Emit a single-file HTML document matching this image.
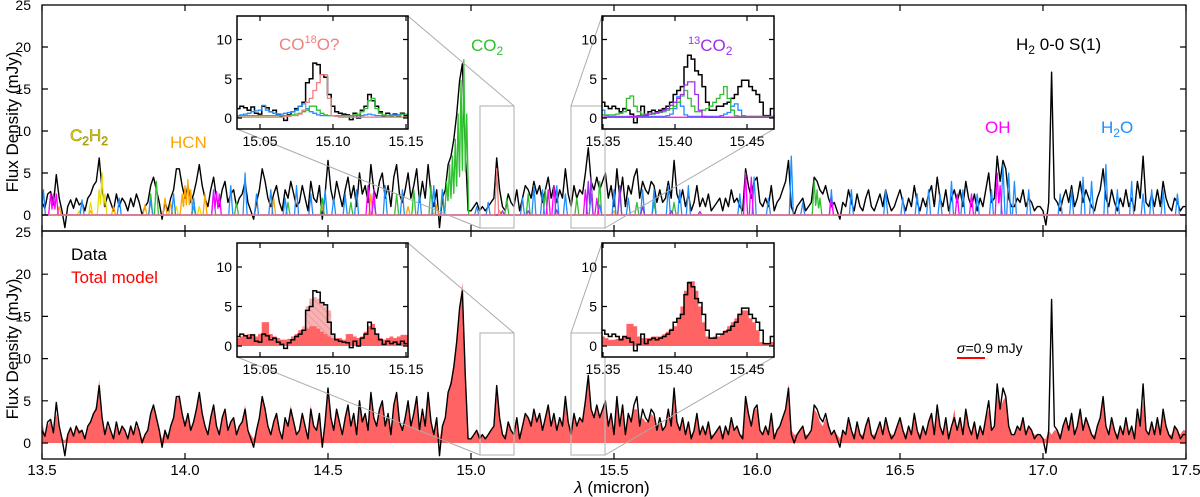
<!DOCTYPE html>
<html><head><meta charset="utf-8">
<style>
html,body{margin:0;padding:0;background:#fff;}
svg{display:block;font-family:"Liberation Sans","DejaVu Sans",sans-serif;}
</style></head>
<body>
<svg id="chart" width="1200" height="497" viewBox="0 0 1200 497" xmlns="http://www.w3.org/2000/svg">
<defs>
<clipPath id="clipTop"><rect x="42" y="5" width="1144" height="226"/></clipPath>
<clipPath id="clipBot"><rect x="42" y="231" width="1144" height="228"/></clipPath>
<clipPath id="clipI1"><rect x="237" y="16" width="171" height="113"/></clipPath>
<clipPath id="clipI2"><rect x="602" y="16" width="172" height="113"/></clipPath>
<clipPath id="clipI3"><rect x="237" y="243" width="171" height="114"/></clipPath>
<clipPath id="clipI4"><rect x="602" y="243" width="172" height="114"/></clipPath>
<pattern id="hatch" patternUnits="userSpaceOnUse" width="5" height="5" patternTransform="rotate(-45)">
<rect width="5" height="5" fill="#f7b3b3"/><line x1="0" y1="0" x2="0" y2="5" stroke="#e08080" stroke-width="1"/>
</pattern>
</defs>
<g id="layer"></g>
</svg>
<script>
const wlStart = 13.5;
const wlStep = 0.01;
const dataFlux = [
1.5,0.8,2.5,2.8,1.2,4.8,2,0.5,-1.5,1,
1.8,0.8,2,1.2,1.5,0.5,2,2.5,3.5,4,
6.8,3,1,2.5,1.5,0.5,2.5,1,2,1.5,
0.5,2,1,2.5,1.5,0,1,1.5,3.5,4.5,
3,1.5,-0.5,1.5,0.5,2,3,5.5,5.5,3.5,
2,3.5,1.5,2.5,4,6,3.5,2,1,3,
4.5,2,1,3,4,1.5,2.5,3,1,2,
2.5,4,1.5,0.5,-0.5,1.5,3,5.5,4,2,
1,2.5,3.5,1.5,0.5,3,2,4,2.5,1,
1.5,3.5,2,0.5,4,2,1.5,3.5,-0.5,2.5,
6.5,3,1.5,4,2.5,1,3,4.5,2,3.5,
1,5,2.5,3.5,1.5,6,3,2,4,5,
2,3.5,1,4.5,6,2.5,1.5,3,5,2,
3.5,5.5,1.5,4,2,6,2.5,1,3,-1.5,
2,3,6,7,9,12,16,18,8,0.5,
0.5,1,1.5,0.5,1,0.5,1,1.5,2,6.8,
3,1,0.5,2.5,1.5,1,3,0.5,2,3.5,
3,2,4,2.5,3.5,1.5,3,4.5,2,3.5,
1.5,3,2,5.5,2.5,1,3.5,2,3,2.5,
5,8,4,3,4.5,3,4,5,2,3.5,
1,5.5,2,4.5,1,3.5,2.5,4.5,5.5,2,
4,3,2.5,4,3.5,1.5,3,1.5,2,4,
2,6.5,2.5,1.5,3,1,2.5,0.5,1.5,3.5,
1,2,1,2.5,0.5,1,1.5,2,0.5,2,
1,3,1.5,2,1,0.5,5.5,3.5,2,4,
4.5,1.5,1,2,1,3.5,0.5,1.5,2,3,
4,6.5,1,0,1,1.5,2,0.5,1,1.5,
4.5,4,3,2.5,3.5,2,1,1.5,0.5,-0.5,
1.5,1,3,1.5,0.5,2.5,1,0.5,2,3,
1,0.5,1.5,2.5,1,3,1.5,0.5,1,2,
3,1.5,0.5,2,1,3.5,1.5,0.5,2,1,
2.5,3.5,1,4.5,2,1,3,0.5,2,3,
1.5,3,1,4,2,1,2.5,0.5,2,1,
3,5,1.5,2,7,4,6.5,5.5,2,1,
1,2,1.5,3,1,2,1.5,0.5,1,1,
0.5,-1.2,1.5,17,2,1.5,0.5,2,3,1.5,
3.5,1,2,4,1.5,3,2,1,0.5,2,
3,5.5,2,1,3,1.5,0.5,2,1,3,
1,2,0.5,4,2,7,1.5,1,2.5,1,
3,1,4,2,1,0.5,2,1.5,0.5,1,
1
];
const modelFlux = [
2.5,1,2,2.8,1.5,3.5,1.5,0.5,0.3,1,
2,1,2,1.5,1.5,0.8,2,2.5,3.5,4.5,
7.5,3,1,2,1.5,0.8,2,1,2,1.5,
0.8,2,1,2,1.5,0.5,1,1.5,3.5,4.5,
3,1.5,0.5,1.5,1,2,3,5,5.8,3.5,
2.5,3.5,1.5,2.5,4,5.5,3.5,2,1,3,
4.5,2,1,3,4,1.5,2.5,3,1,2,
2.5,4.5,1.5,1,0.5,1.5,3,5.5,4,2,
1,2.5,3.5,1.5,0.5,3,2,4.5,2.5,1,
1.5,3.5,2,1,4.5,2,1.5,3.5,0.5,2.5,
6,3,1.5,4,2.5,1,3,4.5,2,3.5,
1.5,5,2.5,3.5,1.5,5.5,3,2,4,5,
2,3.5,1,4.5,5.5,2.5,1.5,3,5,2,
3.5,5.5,1.5,4,2,5.5,2.5,1,3,0.5,
2,3,6,7.5,9.5,12,16.5,19,8.5,0.5,
0.5,1,1.5,1,1,0.5,1,1.5,2,6,
3,1,1,2.5,1.5,1,3,1,2,3.5,
3,2.5,4,2.5,3.5,1.5,3,4.5,2,3.5,
1.5,3,2,5,2.5,1,3.5,2,3,2.5,
5,8,4,3,4.5,3,4,5,2,3.5,
1,5.5,2,4.5,1,3.5,2.5,4,4,2,
3,2.5,2.5,3.5,3,1.5,2.5,1.5,2,4,
2,5.5,2.5,1.5,3,1,2.5,1,1.5,3,
1,2,1,2.5,1,1,1.5,2,1,2,
1,3,1.5,2,1,1,5.5,3.5,2,4,
4,1.5,1,2,1,3.5,1,1.5,2,3,
4,7,1.5,1,1,1.5,2,1,1,1.5,
4,3.5,2.5,2,3,2,1,1.5,1,0.5,
1.5,1,3,1.5,1,2.5,1,1,2,3,
1,1,1.5,2.5,1,3,1.5,1,1,2,
3,1.5,1,2,1,3.5,1.5,1,2,1,
2.5,3.5,1,4.5,2,1,3,1,2,4,
1.5,3,1,4,2,1,2.5,1,2,1,
3,4,1.5,2,6,4,5,5.5,2,1,
1,2,1.5,3,1,2,1.5,1,1,1,
0.5,0.5,1.5,1,1.5,1.5,1,2,3,1.5,
3.5,1,2,4,1.5,3,2,1,1,2,
3,5,2,1,3,1.5,1,2,1,3,
1,2,1,4,2,5,1.5,1,2.5,1,
3,1,4,2,1,1,2,1.5,1,1.5,
1.5
];
const h2oCenters = [13.505,13.64,13.77,13.88,13.96,14.03,14.10,14.16,14.21,14.25,14.30,14.35,14.39,14.44,14.49,14.52,14.56,14.60,14.66,14.70,14.76,14.82,14.87,14.90,15.02,15.06,15.18,15.22,15.25,15.30,15.33,15.42,15.45,15.50,15.55,15.60,15.64,15.69,15.73,15.76,15.94,15.99,16.04,16.12,16.16,16.26,16.33,16.45,16.51,16.56,16.60,16.64,16.68,16.72,16.77,16.82,16.86,16.88,16.90,16.95,17.06,17.10,17.14,17.17,17.22,17.26,17.31,17.35,17.38,17.42,17.47];
const h2oPeaks   = [3,1.8,2,1.8,2.5,2,3,3.5,5,2.5,3,2,3.5,2.5,3,2,2.5,3,2,3.5,3,2.5,3.5,3,1,1.5,2,3.5,3,3.5,2.5,2.5,1.2,3,2,3,3,3.5,3,3.5,2.5,4.5,2,7,1.5,3,3,3,2,2.5,3,2.5,4,3,2.5,3,6,5,4,3,2.5,3,4.5,4,6,3,4,2.5,3,3,2.5];
const co2Centers = [13.88,13.90,14.03,14.18,14.36,14.48,14.58,14.66,14.74,14.80,14.86,14.90,14.915,14.925,14.935,14.945,14.955,14.965,14.975,14.985,15.125,15.20,15.26,15.37,15.45,15.52,15.58,15.64,15.71,16.20,16.21,16.22];
const co2Peaks   = [2.5,4,1,1.5,1.5,2,1.5,2,2.5,3,3.5,3,4,6,7,9,12,16,18.5,12,2,2.5,3,2,4,2.5,1.5,1.5,1.5,4,3,2];
const ohCenters = [13.53,13.54,13.55,14.10,14.11,14.12,14.64,14.66,15.27,15.29,15.40,15.44,15.96,15.98,16.26,16.70,16.75,16.84,16.85];
const ohPeaks   = [2.5,2.5,2.5,2.8,2.8,2.5,3.5,3,3,3.5,3,2,5,4.5,2,2.5,2.5,5,3.5];
const hcnCenters = [13.56,13.67,13.75,13.86,13.93,13.95,13.99,14.00,14.01,14.02,14.07,14.31,14.48,14.65,14.78,14.88,15.10,15.30,15.50,15.70];
const hcnPeaks   = [1,0.5,1,1.2,2,1.5,2.5,3.5,4.2,3,2.5,2,1,2.5,1,1.2,0.5,0.5,0.5,0.4];
const c2h2Centers = [13.63,13.67,13.70,13.71,13.72,13.97,14.05];
const c2h2Peaks   = [0.5,1.5,3,5,2.5,1,1];
const co2_13Centers = [15.11,15.20,15.30,15.41,15.42,15.52,15.60,15.70,15.80];
const co2_13Peaks   = [0.5,0.5,0.6,4,4.5,3.5,1,0.5,0.4];
const co18oCenters = [15.09];
const co18oPeaks   = [5.5];
const in1Start = 15.035;
const inStep = 0.0025;
const in1Data = [1.2,1.5,1.3,1.0,1.4,0.6,0.5,1.5,1.3,0.8,1.0,0.5,0.2,-0.3,0.4,0.8,1.2,1.5,2.0,4.5,5.0,7.0,6.8,5.5,5.2,3.0,1.5,0.8,0.6,0.5,0.4,-0.2,0.6,0.0,1.0,1.5,3.0,2.2,1.5,0.8,0.2,0.6,0.3,0.5,0.2,0.6,0.3];
const in1Model = [1.0,1.2,1.4,1.5,1.3,1.2,1.5,3.0,3.0,1.5,1.2,1.0,0.8,0.8,0.9,1.2,1.5,2.0,2.5,5.0,6.0,6.2,6.0,5.5,5.0,4.5,1.5,1.0,1.0,0.8,1.5,1.5,1.2,1.0,1.2,1.8,2.5,2.8,1.5,1.0,0.8,1.0,1.2,1.0,1.2,1.4,1.4];
const in1ModelNoIso = [1.0,1.2,1.4,1.5,1.3,1.2,1.5,3.0,3.0,1.5,1.2,1.0,0.8,0.8,0.9,1.2,1.5,2.0,2.0,2.2,2.5,2.5,2.2,1.8,1.5,1.2,1.0,1.0,1.0,0.8,1.5,1.5,1.2,1.0,1.2,1.8,2.5,2.8,1.5,1.0,0.8,1.0,1.2,1.0,1.2,1.4,1.4];
const in1Co18o = [0.1,0.1,0.1,0.1,0.1,0.1,0.1,0.1,0.1,0.1,0.1,0.1,0.1,0.2,0.2,0.3,0.3,0.5,1.0,2.0,2.5,3.5,4.5,5.5,5.5,2.5,0.3,0.2,0.1,0.1,0.1,0.1,0.1,0.1,0.1,0.1,0.1,0.1,0.1,0.1,0.1,0.1,0.1,0.1,0.1,0.1,0.1];
const in1Co2 = [0.3,0.3,0.3,0.3,0.3,0.3,0.3,0.3,0.3,0.3,0.3,0.3,0.3,0.3,0.3,0.4,0.5,0.6,0.8,1.0,1.5,1.5,1.0,0.6,0.4,0.3,0.3,0.3,0.3,0.3,0.3,0.3,0.4,0.5,0.8,1.2,2.2,2.5,1.2,0.6,0.4,0.3,0.3,0.3,0.3,0.5,0.5];
const in1H2o = [0.3,0.4,0.5,0.6,0.8,0.9,1.0,1.6,1.0,0.8,0.6,0.5,0.5,0.6,0.7,0.8,1.0,1.5,1.8,1.2,0.8,0.6,0.4,0.3,0.3,0.3,0.3,0.3,0.3,0.3,0.3,0.3,0.3,0.3,0.3,0.4,0.5,0.4,0.3,0.3,0.3,0.3,0.4,0.4,0.4,0.5,0.5];
const in2Start = 15.35;
const in2Data = [2.0,1.5,1.2,1.5,1.2,0.8,1.2,1.0,0.5,-0.6,0.2,1.5,0.3,0.8,1.0,0.8,1.0,1.2,1.5,2.0,3.0,3.5,4.0,6.5,8.0,7.5,6.0,5.5,4.0,2.0,1.0,1.0,1.5,1.5,1.8,2.0,2.5,3.0,4.0,4.8,4.8,4.0,3.5,3.0,2.0,0.3,0.3,1.2];
const in2Model = [1.2,1.0,0.8,0.8,0.9,1.0,1.2,2.8,2.8,2.5,1.2,1.0,1.0,1.0,1.2,1.2,1.2,1.5,1.8,2.2,2.5,3.5,5.0,7.0,8.2,8.2,7.0,5.0,3.0,1.2,1.0,1.2,1.2,1.5,2.0,2.5,3.0,3.5,4.0,4.5,4.5,3.5,3.0,2.0,0.5,0.3,0.3,0.5];
const in2Co2_13 = [0.1,0.1,0.1,0.1,0.1,0.1,0.1,0.1,0.2,0.2,0.3,0.3,0.4,0.5,0.6,0.7,0.8,1.0,1.2,1.6,2.0,2.5,3.0,4.2,4.6,4.6,3.0,1.0,0.2,0.1,0.1,0.1,0.1,0.1,0.1,0.1,0.1,0.1,0.1,0.1,0.1,0.1,0.1,0.1,0.1,0.1,0.1,0.1];
const in2Co2 = [0.4,0.4,0.4,0.4,0.5,0.6,0.8,2.5,2.8,1.5,0.8,0.5,0.5,0.5,0.5,0.6,0.7,0.8,1.0,1.2,1.5,2.0,2.8,3.5,2.5,1.5,0.8,0.8,1.0,1.2,1.5,2.0,2.5,3.0,4.0,2.5,1.0,0.3,0.2,0.2,0.2,0.2,0.2,0.2,0.2,0.2,0.2,0.2];
const in2H2o = [1.0,0.3,0.2,0.2,0.2,0.2,0.2,0.2,0.2,0.2,0.2,0.2,0.2,0.2,0.2,0.2,0.2,0.2,0.3,0.5,1.2,2.7,1.5,0.4,0.2,0.2,0.2,0.2,0.2,0.2,0.2,0.2,0.2,0.3,0.5,0.7,1.5,1.8,1.0,0.3,0.2,0.2,0.2,0.2,0.2,0.2,0.2,0.2];
const xTicks = ["13.5","14.0","14.5","15.0","15.5","16.0","16.5","17.0","17.5"];
const yTicks = [0,5,10,15,20,25];
const inYTicks = [0,5,10];
const in1XTicks = ["15.05","15.10","15.15"];
const in2XTicks = ["15.35","15.40","15.45"];

const X = l => 42 + (l - 13.5) * 286;
const Yt = v => 215 - v * 8.4;
const Yb = v => 443 - v * 8.44;
const XI1 = l => 260 + (l - 15.05) * 1460;
const XI2 = l => 603 + (l - 15.35) * 1440;
const YI1 = v => 118 - v * 7.85;
const YI3 = v => 346 - v * 7.9;

const NS = 'http://www.w3.org/2000/svg';
const root = document.getElementById('layer');
function mk(tag, attrs, parent) {
  const e = document.createElementNS(NS, tag);
  for (const k in attrs) e.setAttribute(k, attrs[k]);
  (parent || root).appendChild(e);
  return e;
}
function txt(s, x, y, attrs, parent) {
  const e = mk('text', Object.assign({x: x, y: y}, attrs), parent);
  e.textContent = s;
  return e;
}
function linePath(vals, start, step, xf, yf) {
  let d = '';
  vals.forEach((v, i) => { d += (i ? 'L' : 'M') + xf(start + i * step).toFixed(1) + ',' + yf(v).toFixed(1); });
  return d;
}
function stepPath(vals, start, step, xf, yf) {
  let d = '';
  vals.forEach((v, i) => {
    const x0 = xf(start + (i - 0.5) * step), x1 = xf(start + (i + 0.5) * step);
    d += (i ? 'L' : 'M') + x0.toFixed(1) + ',' + yf(v).toFixed(1) + 'L' + x1.toFixed(1) + ',' + yf(v).toFixed(1);
  });
  return d;
}
function stepArea(vals, start, step, xf, yf) {
  const d = stepPath(vals, start, step, xf, yf);
  const xe = xf(start + (vals.length - 0.5) * step), xs = xf(start - 0.5 * step);
  return d + 'L' + xe.toFixed(1) + ',' + yf(0).toFixed(1) + 'L' + xs.toFixed(1) + ',' + yf(0).toFixed(1) + 'Z';
}
// envelope of triangular line profiles sampled on a fine grid
function linesPath(centers, peaks, xf, yf) {
  const w = 0.007, n = 4000;
  let d = '';
  for (let k = 0; k <= n; k++) {
    const l = 13.5 + k * 0.001;
    let v = 0;
    for (let i = 0; i < centers.length; i++) {
      const t = 1 - Math.abs(l - centers[i]) / w;
      if (t > 0) v = Math.max(v, peaks[i] * t);
    }
    d += (k ? 'L' : 'M') + xf(l).toFixed(1) + ',' + yf(v).toFixed(1);
  }
  return d;
}

const gTop = mk('g', {'clip-path': 'url(#clipTop)'});


let p;
p = mk('path', {d: linePath(dataFlux, wlStart, wlStep, X, Yt), fill: 'none', stroke: '#000', 'stroke-width': 1.4, 'stroke-linejoin': 'round'}, gTop);


const mols = [
  ['hcn-model-line', hcnCenters, hcnPeaks, '#ffa500'],
  ['c2h2-model-line', c2h2Centers, c2h2Peaks, '#e8e000'],
  ['co2-model-line', co2Centers, co2Peaks, '#2fc12f'],
  ['h2o-model-line', h2oCenters, h2oPeaks, '#1e8fff'],
  ['oh-model-line', ohCenters, ohPeaks, '#ff00ff'],
  ['13co2-model-line', co2_13Centers, co2_13Peaks, '#9b30e8'],
  ['co18o-model-line', co18oCenters, co18oPeaks, '#f08080']
];
mols.forEach(m => {
  const e = mk('path', {d: linesPath(m[1], m[2], X, Yt), fill: 'none', stroke: m[3], 'stroke-width': 1.3, 'stroke-linejoin': 'round'}, gTop);
  
  
});

const gBot = mk('g', {'clip-path': 'url(#clipBot)'});


p = mk('path', {d: linePath(modelFlux, wlStart, wlStep, X, Yb) + 'L' + X(17.5) + ',' + Yb(0) + 'L' + X(13.5) + ',' + Yb(0) + 'Z', fill: '#ff6363', stroke: 'none'}, gBot);


p = mk('path', {d: linePath(dataFlux, wlStart, wlStep, X, Yb), fill: 'none', stroke: '#000', 'stroke-width': 1.4, 'stroke-linejoin': 'round'}, gBot);



function zoomGeom(top) {
  const ry0 = top ? 106 : 333, ry1 = top ? 228 : 455;
  const iy0 = top ? 16 : 243, iy1 = top ? 129 : 357;
  let e;
  e = mk('rect', {x: 480, y: ry0, width: 34, height: ry1 - ry0, fill: 'none', stroke: '#bbb', 'stroke-width': 1.2});
  
  
  e = mk('rect', {x: 571, y: ry0, width: 34, height: ry1 - ry0, fill: 'none', stroke: '#bbb', 'stroke-width': 1.2});
  
  
  e = mk('path', {d: `M408,${iy0}L514,${ry0}M237,${iy1}L480,${ry1}M602,${iy0}L571,${ry0}M774,${iy1}L605,${ry1}`, stroke: '#aaa', 'stroke-width': 1, fill: 'none'});
  
  
}
zoomGeom(true);
zoomGeom(false);

function mainAxes(y0, y1, yf, label) {
  let e = mk('rect', {x: 42, y: y0, width: 1144, height: y1 - y0, fill: 'none', stroke: '#000', 'stroke-width': 1.3});
  
  
  let d = '';
  xTicks.forEach(t => { const x = X(parseFloat(t)); d += `M${x},${y0}v6M${x},${y1}v-6`; });
  yTicks.forEach(v => { const y = yf(v); if (y > y0 + 1) d += `M42,${y}h6M1186,${y}h-6`; });
  e = mk('path', {d: d, stroke: '#000', 'stroke-width': 1.2});
  
  
  yTicks.forEach(v => {
    e = txt(String(v), 31, yf(v) + 5, {'font-size': 14, 'text-anchor': 'end', fill: '#000'});
    
    
  });
  e = txt('Flux Density (mJy)', 0, 0, {'font-size': 17, 'text-anchor': 'middle', transform: `translate(18,${(y0 + y1) / 2 + 4}) rotate(-90)`});
  
  
}
mainAxes(5, 231, Yt, 'top-panel');
mainAxes(231, 459, Yb, 'bottom-panel');
xTicks.forEach(t => {
  const e = txt(t, X(parseFloat(t)), 475, {'font-size': 15, 'text-anchor': 'middle'});
  
  
});
let xt = mk('text', {x: 612, y: 493, 'font-size': 17, 'text-anchor': 'middle'});
xt.innerHTML = '<tspan font-style="italic">λ</tspan> (micron)';



function insetBox(x0, y0, w, h, name, clip) {
  let e = mk('rect', {x: x0, y: y0, width: w, height: h, fill: '#fff', stroke: 'none'});
  
  
  const g = mk('g', {'clip-path': `url(#${clip})`});
  
  
  return g;
}
function insetFrame(x0, y0, w, h, xf, yf, ticks, name) {
  let e = mk('rect', {x: x0, y: y0, width: w, height: h, fill: 'none', stroke: '#000', 'stroke-width': 1.5});
  
  
  let d = '';
  inYTicks.forEach(v => { const y = yf(v); d += `M${x0},${y}h5M${x0 + w},${y}h-5`; });
  ticks.forEach(t => { const x = xf(parseFloat(t)); d += `M${x},${y0 + h}v-5M${x},${y0}v5`; });
  e = mk('path', {d: d, stroke: '#000', 'stroke-width': 1.2});
  
  
  inYTicks.forEach(v => {
    e = txt(String(v), x0 - 5, yf(v) + 5, {'font-size': 14, 'text-anchor': 'end'});
    
    
  });
  ticks.forEach(t => {
    e = txt(t, xf(parseFloat(t)), y0 + h + 17, {'font-size': 14, 'text-anchor': 'middle'});
    
    
  });
}
function addStep(g, vals, start, xf, yf, color, name, width) {
  const e = mk('path', {d: stepPath(vals, start, inStep, xf, yf), fill: 'none', stroke: color, 'stroke-width': width || 1.3}, g);
  
  
}
function addArea(g, vals, start, xf, yf, fill, name) {
  const e = mk('path', {d: stepArea(vals, start, inStep, xf, yf), fill: fill, stroke: 'none'}, g);
  
  
}
let g = insetBox(237, 16, 171, 113, 'inset-co18o-top', 'clipI1');
addStep(g, in1Data, in1Start, XI1, YI1, '#000', 'inset1-data-line', 1.5);
addStep(g, in1H2o, in1Start, XI1, YI1, '#1e8fff', 'inset1-h2o-line');
addStep(g, in1Co2, in1Start, XI1, YI1, '#2fc12f', 'inset1-co2-line');
addStep(g, in1Co18o, in1Start, XI1, YI1, '#f08080', 'inset1-co18o-line');
insetFrame(237, 16, 171, 113, XI1, YI1, in1XTicks, 'inset-co18o-top');

g = insetBox(602, 16, 172, 113, 'inset-13co2-top', 'clipI2');
addStep(g, in2Data, in2Start, XI2, YI1, '#000', 'inset2-data-line', 1.5);
addStep(g, in2H2o, in2Start, XI2, YI1, '#1e8fff', 'inset2-h2o-line');
addStep(g, in2Co2, in2Start, XI2, YI1, '#2fc12f', 'inset2-co2-line');
addStep(g, in2Co2_13, in2Start, XI2, YI1, '#9b30e8', 'inset2-13co2-line');
p = mk('path', {d: 'M602,' + YI1(0.1) + 'H774', stroke: '#ff00ff', 'stroke-width': 1.3}, g);


insetFrame(602, 16, 172, 113, XI2, YI1, in2XTicks, 'inset-13co2-top');

g = insetBox(237, 243, 171, 114, 'inset-co18o-bottom', 'clipI3');
addArea(g, in1Model, in1Start, XI1, YI3, 'url(#hatch)', 'inset3-co18o-contribution');
addArea(g, in1ModelNoIso, in1Start, XI1, YI3, '#ff6363', 'inset3-model-fill');
addStep(g, in1Data, in1Start, XI1, YI3, '#000', 'inset3-data-line', 1.5);
insetFrame(237, 243, 171, 114, XI1, YI3, in1XTicks, 'inset-co18o-bottom');

g = insetBox(602, 243, 172, 114, 'inset-13co2-bottom', 'clipI4');
addArea(g, in2Model, in2Start, XI2, YI3, '#ff6363', 'inset4-model-fill');
addStep(g, in2Data, in2Start, XI2, YI3, '#000', 'inset4-data-line', 1.5);
insetFrame(602, 243, 172, 114, XI2, YI3, in2XTicks, 'inset-13co2-bottom');

function rich(html, x, y, color, size, name, extra) {
  const e = mk('text', Object.assign({x: x, y: y, 'font-size': size, fill: color}, extra || {}));
  e.innerHTML = html;
  
  
  return e;
}
rich('C<tspan font-size="12" dy="4">2</tspan><tspan dy="-4">H</tspan><tspan font-size="12" dy="4">2</tspan>', 70, 141, '#e8e000', 17, 'c2h2-label', {stroke: '#8a7a00', 'stroke-width': 0.5});
rich('HCN', 170, 148, '#ffa500', 17, 'hcn-label');
rich('CO<tspan font-size="12" dy="4">2</tspan>', 471, 51, '#2fc12f', 17, 'co2-label');
rich('CO<tspan font-size="11" dy="-7">18</tspan><tspan dy="7">O?</tspan>', 279, 50, '#f08080', 17, 'co18o-label');
rich('<tspan font-size="11" dy="-7">13</tspan><tspan dy="7">CO</tspan><tspan font-size="12" dy="4">2</tspan>', 688, 51, '#9b30e8', 17, '13co2-label');
rich('H<tspan font-size="12" dy="4">2</tspan><tspan dy="-4"> 0-0 S(1)</tspan>', 1016, 50, '#000', 17, 'h2-line-label');
rich('OH', 985, 133, '#ff00ff', 17, 'oh-label');
rich('H<tspan font-size="12" dy="4">2</tspan><tspan dy="-4">O</tspan>', 1101, 133, '#1e8fff', 17, 'h2o-label');
rich('Data', 71, 260, '#000', 17, 'legend-data');
rich('Total model', 71, 283, '#ff0000', 17, 'legend-total-model');
rich('<tspan font-style="italic">σ</tspan>=0.9 mJy', 957, 353, '#000', 14, 'noise-annotation');
p = mk('path', {d: 'M957,358H985', stroke: '#ff0000', 'stroke-width': 2});


</script>
</body></html>
